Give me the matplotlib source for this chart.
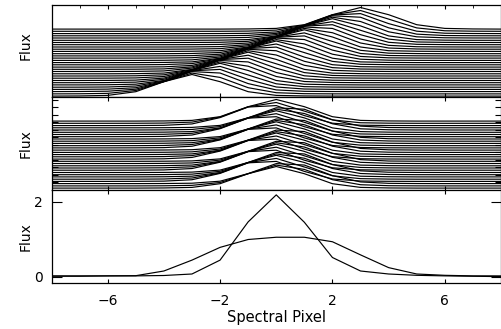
import numpy as np
import matplotlib
matplotlib.use("Agg")
import matplotlib.pyplot as plt

# ---------------- data ----------------
pixels = [-8, -7, -6, -5, -4, -3, -2, -1, 0, 1, 2, 3, 4, 5, 6, 7, 8]

# bottom panel: well-sampled (narrow) profile and broadened profile
narrow_flux = [0.02, 0.02, 0.03, 0.03, 0.04, 0.08, 0.45, 1.47, 2.19, 1.46, 0.52,
               0.16, 0.08, 0.045, 0.03, 0.02, 0.01]
broad_flux = [0.03, 0.03, 0.03, 0.035, 0.16, 0.45, 0.79, 1.00, 1.06, 1.06, 0.94,
              0.59, 0.25, 0.08, 0.045, 0.03, 0.03]

# line profile as a function of distance from the line centre
profile_offset = [0.0, 0.5, 1.0, 1.5, 2.0, 2.5, 3.0, 3.5, 4.0, 5.0, 20.0]
profile_flux = [2.19, 1.99, 1.47, 0.92, 0.47, 0.22, 0.10, 0.06, 0.045, 0.03, 0.03]

# top panel: line centre of each sampled spectrum (sub-pixel shifts)
top_centers = [-3.0, -2.8, -2.6, -2.4, -2.2, -2.0, -1.8, -1.6, -1.4, -1.2, -1.0,
               -0.8, -0.6, -0.4, -0.2, 0.0, 0.2, 0.4, 0.6, 0.8, 1.0, 1.2, 1.4,
               1.6, 1.8, 2.0, 2.2, 2.4, 2.6, 2.8, 3.0]
# middle panel: residual sub-pixel phase after integer re-centring
middle_phases = [0.0, 0.2, 0.4, -0.4, -0.2, 0.0, 0.2, 0.4, -0.4, -0.2, 0.0,
                 0.2, 0.4, -0.4, -0.2, 0.0, 0.2, 0.4, -0.4, -0.2, 0.0, 0.2,
                 0.4, -0.4, -0.2, 0.0, 0.2, 0.4, -0.4, -0.2, 0.0]
# vertical offset applied to each spectrum
line_offsets = [0.00, 0.22, 0.45, 0.67, 0.89, 1.12, 1.34, 1.56, 1.79, 2.01, 2.23,
                2.46, 2.68, 2.90, 3.13, 3.35, 3.57, 3.80, 4.02, 4.24, 4.47, 4.69,
                4.91, 5.14, 5.36, 5.58, 5.81, 6.03, 6.25, 6.48, 6.70]

xtick_values = [-6, -2, 2, 6]
xtick_labels = ["\u22126", "\u22122", "2", "6"]
bottom_ytick_values = [0, 2]
bottom_ytick_labels = ["0", "2"]
middle_ytick_values = [0.6, 1.35, 2.1, 2.85, 3.6, 4.35, 5.1, 5.85, 6.6, 7.35, 8.1, 8.85]


def sampled(center):
    x = np.asarray(pixels, dtype=float)
    return np.interp(np.abs(x - center), profile_offset, profile_flux)


# ---------------- figure ----------------
plt.rcParams["font.family"] = ["DejaVu Sans"]
fig = plt.figure(figsize=(5.02, 3.29), dpi=100)
L, W = 0.1026, 0.8954
ax1 = fig.add_axes([L, 0.7052, W, 0.2796])
ax2 = fig.add_axes([L, 0.4225, W, 0.2827])
ax3 = fig.add_axes([L, 0.1413, W, 0.2812])

lw = 0.85
for c, off in zip(top_centers, line_offsets):
    ax1.plot(pixels, sampled(c) + off, color="black", lw=lw)
for ph, off in zip(middle_phases, line_offsets):
    ax2.plot(pixels, sampled(ph) + off, color="black", lw=lw)
ax3.plot(pixels, narrow_flux, color="black", lw=lw)
ax3.plot(pixels, broad_flux, color="black", lw=lw)

ax1.set_ylim(-0.06, 9.14)
ax2.set_ylim(-0.16, 9.14)
ax3.set_ylim(-0.147, 2.32)

for ax in (ax1, ax2, ax3):
    ax.set_xlim(-8, 8)
    for s in ax.spines.values():
        s.set_linewidth(0.9)
        s.set_color("black")
    ax.set_xticks(xtick_values)
    ax.tick_params(axis="x", which="major", direction="in", top=True, bottom=True,
                   length=3, width=0.8)
    ax.tick_params(axis="y", which="major", direction="in", left=True, right=True,
                   length=4, width=0.8)
    ax.set_ylabel("Flux", fontsize=10)
    ax.yaxis.set_label_coords(-0.041, 0.5)

# top panel
ax1.set_xticklabels([])
ax1.set_xticks(range(-7, 8), minor=True)
ax1.tick_params(axis="x", which="minor", direction="in", top=True, bottom=False,
                length=2, width=0.6)
ax1.set_yticks([])
ax1.yaxis.set_label_coords(-0.041, 0.56)

# middle panel
ax2.set_xticklabels([])
ax2.set_yticks(middle_ytick_values)
ax2.set_yticklabels([])

# bottom panel
ax3.set_xticklabels(xtick_labels, fontsize=10)
ax3.tick_params(axis="x", which="major", pad=8)
ax3.set_yticks(bottom_ytick_values)
ax3.set_yticklabels(bottom_ytick_labels, fontsize=10)
ax3.tick_params(axis="y", which="major", length=7, pad=6)
ax3.set_xlabel("Spectral Pixel", fontsize=10.5, labelpad=1.5)

fig.savefig("out.png", dpi=100)
